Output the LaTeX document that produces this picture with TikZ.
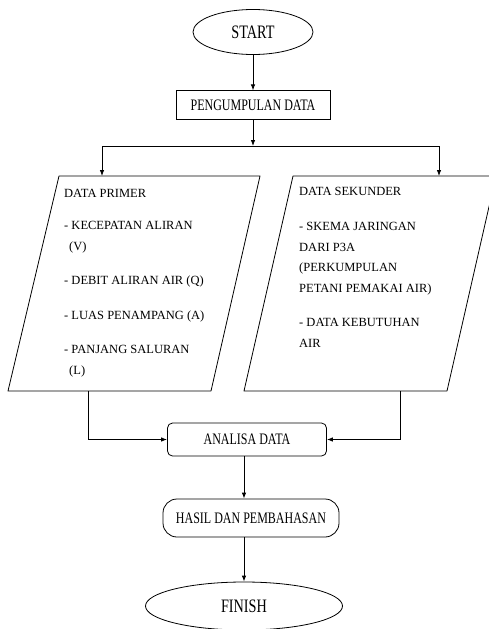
\documentclass[tikz,border=0pt]{standalone}
\usepackage{fontspec}
\setmainfont{Liberation Serif}
\newfontfamily\narrowserif{Liberation Serif}[FakeStretch=0.75]
\usepackage{tikz}
\usetikzlibrary{positioning, arrows.meta, shapes.geometric}

\begin{document}
\begin{tikzpicture}[
  x=1pt, y=-1pt,
  node distance=35pt,
  terminal/.style={draw, ellipse, line width=0.8pt,
                   font=\narrowserif\fontsize{19}{22}\selectfont},
  process/.style={draw, line width=0.8pt, minimum height=29pt,
                  font=\narrowserif\fontsize{16}{19}\selectfont},
  itemtext/.style={anchor=north west, align=left, inner sep=0pt,
                   font=\fontsize{12.5}{20.5}\selectfont},
  arrow/.style={-{Latex[length=6pt,width=4.5pt]}, line width=0.8pt},
  line/.style={line width=0.8pt, line join=round}
]
\useasboundingbox (0,0) rectangle (488,629);
\node[terminal, minimum width=120pt, minimum height=45pt] (start) at (253,32) {START};
\node[process, minimum width=154pt, below=35.5pt of start] (collect) {PENGUMPULAN DATA};
\coordinate (splitL) at (102,146);
\coordinate (splitR) at (439,146);

% data parallelograms
\draw[line] (59,176) coordinate (primerTL) -- (260,176) -- (211,391) -- (8,391) coordinate (primerBL) -- cycle;
\draw[line] (293,176) coordinate (sekunderTL) -- (496,176) -- (447,391) -- (244,391) coordinate (sekunderBL) -- cycle;
\node[itemtext] (primer) at ([shift={(5pt,-13pt)}]primerTL)
  {DATA PRIMER\\[12pt]
   - KECEPATAN ALIRAN\\ \hspace{5pt}(V)\\[14pt]
   - DEBIT ALIRAN AIR (Q)\\[14pt]
   - LUAS PENAMPANG (A)\\[14pt]
   - PANJANG SALURAN\\ \hspace{5pt}(L)};
\node[itemtext] (sekunder) at ([shift={(6pt,-11pt)}]sekunderTL)
  {DATA SEKUNDER\\[15pt]
   - SKEMA JARINGAN\\
   DARI P3A\\
   (PERKUMPULAN\\
   PETANI PEMAKAI AIR)\\[14pt]
   - DATA KEBUTUHAN\\
   AIR};
\coordinate (primerOut) at ([xshift=80pt]primerBL);
\coordinate (sekunderOut) at ([xshift=156pt]sekunderBL);

\node[process, rounded corners=5pt, minimum width=159pt, minimum height=33pt] (analisa) at (247,439.5) {ANALISA DATA};
\node[process, rounded corners=14pt, minimum width=176pt, minimum height=38pt] (hasil) at (251,518) {HASIL DAN PEMBAHASAN};
\node[terminal, minimum width=197pt, minimum height=48pt] (finish) at (244,606) {FINISH};

% connectors
\draw[arrow] (start) -- (collect);
\draw[arrow] (collect) -- (collect |- splitL);
\draw[line] (splitL) -- (splitR);
\draw[arrow] (splitL) -- (splitL |- primerTL);
\draw[arrow] (splitR) -- (splitR |- sekunderTL);
\draw[arrow] (primerOut) |- (analisa);
\draw[arrow] (sekunderOut) |- (analisa);
\draw[arrow] (analisa.south -| finish) -- (hasil.north -| finish);
\draw[arrow] (hasil.south -| finish) -- (finish);
\end{tikzpicture}
\end{document}
